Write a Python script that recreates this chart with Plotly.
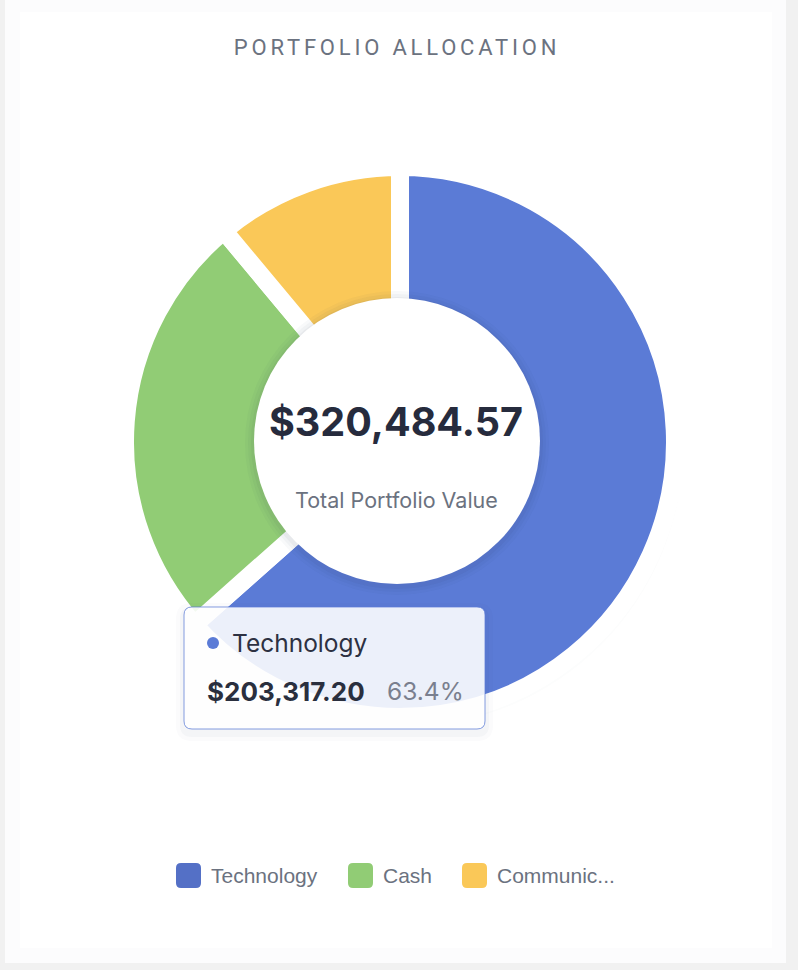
import plotly.graph_objects as go

# ---- data ----
categories = ["Technology", "Cash", "Communication"]
values = [203317.20, 81723.57, 35443.80]
slice_colors = ["#5b7bd6", "#91cc75", "#fac858"]
legend_labels = ["Technology", "Cash", "Communic..."]
legend_colors = ["#5470c6", "#91cc75", "#fac858"]
title_text = "PORTFOLIO ALLOCATION"
center_value = "$320,484.57"
center_label = "Total Portfolio Value"
tip_category = "Technology"
tip_value = "$203,317.20"
tip_pct = "63.4%"

W, H = 798, 970


def px(x):
    return x / W


def py(y):
    return 1 - y / H


def rrect(x0, y0, x1, y1, r):
    p = lambda x, y: f"{px(x):.5f},{py(y):.5f}"
    return (
        f"M {p(x0 + r, y0)} L {p(x1 - r, y0)} Q {p(x1, y0)} {p(x1, y0 + r)} "
        f"L {p(x1, y1 - r)} Q {p(x1, y1)} {p(x1 - r, y1)} "
        f"L {p(x0 + r, y1)} Q {p(x0, y1)} {p(x0, y1 - r)} "
        f"L {p(x0, y0 + r)} Q {p(x0, y0)} {p(x0 + r, y0)} Z"
    )


def circ(x, y, r, color, layer):
    return dict(type="circle", xref="paper", yref="paper", x0=px(x - r), x1=px(x + r),
                y0=py(y + r), y1=py(y - r), fillcolor=color, line=dict(width=0), layer=layer)


cx, cy, lw = 400, 442, 18
R = 266 + lw / 2

fig = go.Figure()
fig.add_trace(
    go.Pie(
        labels=categories,
        values=values,
        sort=False,
        direction="clockwise",
        rotation=0,
        hole=0.42,
        marker=dict(colors=slice_colors, line=dict(color="#ffffff", width=lw)),
        textinfo="none",
        hoverinfo="none",
        showlegend=False,
        domain=dict(x=[px(cx - R), px(cx + R)], y=[py(cy + R), py(cy - R)]),
    )
)

shapes = []
# card
shapes.append(dict(type="rect", xref="paper", yref="paper", x0=px(5), x1=px(786),
                   y0=py(963), y1=py(0), fillcolor="#fcfcfd", line=dict(width=0), layer="below"))
shapes.append(dict(type="rect", xref="paper", yref="paper", x0=px(20), x1=px(772),
                   y0=py(948), y1=py(12), fillcolor="#ffffff", line=dict(width=0), layer="below"))
# soft shadow behind the donut
for d, a in [(14, 0.012), (9, 0.018), (5, 0.025)]:
    shapes.append(circ(cx + 3, cy + 5, 266 + d, f"rgba(40,50,80,{a})", "below"))
# white centre disc with soft shadow
for d, a in [(9, 0.03), (6, 0.035), (3, 0.045)]:
    shapes.append(circ(397, 443, 143 + d, f"rgba(40,50,80,{a})", "above"))
shapes.append(circ(397, 441, 143, "#ffffff", "above"))
# tooltip shadow + box
for d, a in [(8, 0.02), (4, 0.03)]:
    shapes.append(dict(type="path", xref="paper", yref="paper",
                       path=rrect(184 - d, 607 - d + 4, 485 + d, 729 + d + 4, 8 + d),
                       fillcolor=f"rgba(40,50,80,{a})", line=dict(width=0), layer="above"))
shapes.append(dict(type="path", xref="paper", yref="paper", path=rrect(184, 607, 485, 729, 8),
                   fillcolor="rgba(255,255,255,0.89)", line=dict(color="rgba(91,123,214,0.75)", width=1),
                   layer="above"))
shapes.append(circ(213, 643, 6, slice_colors[0], "above"))
# legend squares
leg_sq_x = [176, 348, 462]
for x, c in zip(leg_sq_x, legend_colors):
    shapes.append(dict(type="path", xref="paper", yref="paper", path=rrect(x, 863, x + 25, 888, 5),
                       fillcolor=c, line=dict(width=0), layer="above"))

F = "Inter, Roboto, sans-serif"
ann = []
ann.append(dict(text=center_value, x=px(396), y=py(422), xref="paper", yref="paper", showarrow=False,
                font=dict(family=F, size=39.5, color="#262b3d", weight=700),
                xanchor="center", yanchor="middle"))
ann.append(dict(text=center_label, x=px(396), y=py(500), xref="paper", yref="paper", showarrow=False,
                font=dict(family=F, size=21.5, color="#6b7280"),
                xanchor="center", yanchor="middle"))
ann.append(dict(text=tip_category, x=px(230), y=py(643), xref="paper", yref="paper", showarrow=False,
                font=dict(family=F, size=24.5, color="#2d3142"),
                xanchor="left", yanchor="middle"))
ann.append(dict(text=tip_value, x=px(205), y=py(691), xref="paper", yref="paper", showarrow=False,
                font=dict(family=F, size=26, color="#2a2f3e", weight=700),
                xanchor="left", yanchor="middle"))
ann.append(dict(text=tip_pct, x=px(385), y=py(691), xref="paper", yref="paper", showarrow=False,
                font=dict(family=F, size=24.5, color="#7a7f8e"),
                xanchor="left", yanchor="middle"))
leg_txt_x = [209, 381, 495]
for x, t in zip(leg_txt_x, legend_labels):
    ann.append(dict(text=t, x=px(x), y=py(875), xref="paper", yref="paper", showarrow=False,
                    font=dict(family="Liberation Sans, Arial, sans-serif", size=21, color="#6b7280"),
                    xanchor="left", yanchor="middle"))

fig.update_layout(
    width=W, height=H,
    margin=dict(l=0, r=0, t=0, b=0),
    paper_bgcolor="#f1f1f1",
    title=dict(text=title_text, x=px(397), xanchor="center", y=py(47), yanchor="middle",
               font=dict(family="Roboto, sans-serif", size=22, color="#6b7280")),
    shapes=shapes,
    annotations=ann,
)

post = """
document.body.style.margin='0';
document.querySelectorAll('.gtitle').forEach(function(e){e.style.letterSpacing='3.8px';});
"""
fig.write_html("out.html", post_script=post, config={"displayModeBar": False})
